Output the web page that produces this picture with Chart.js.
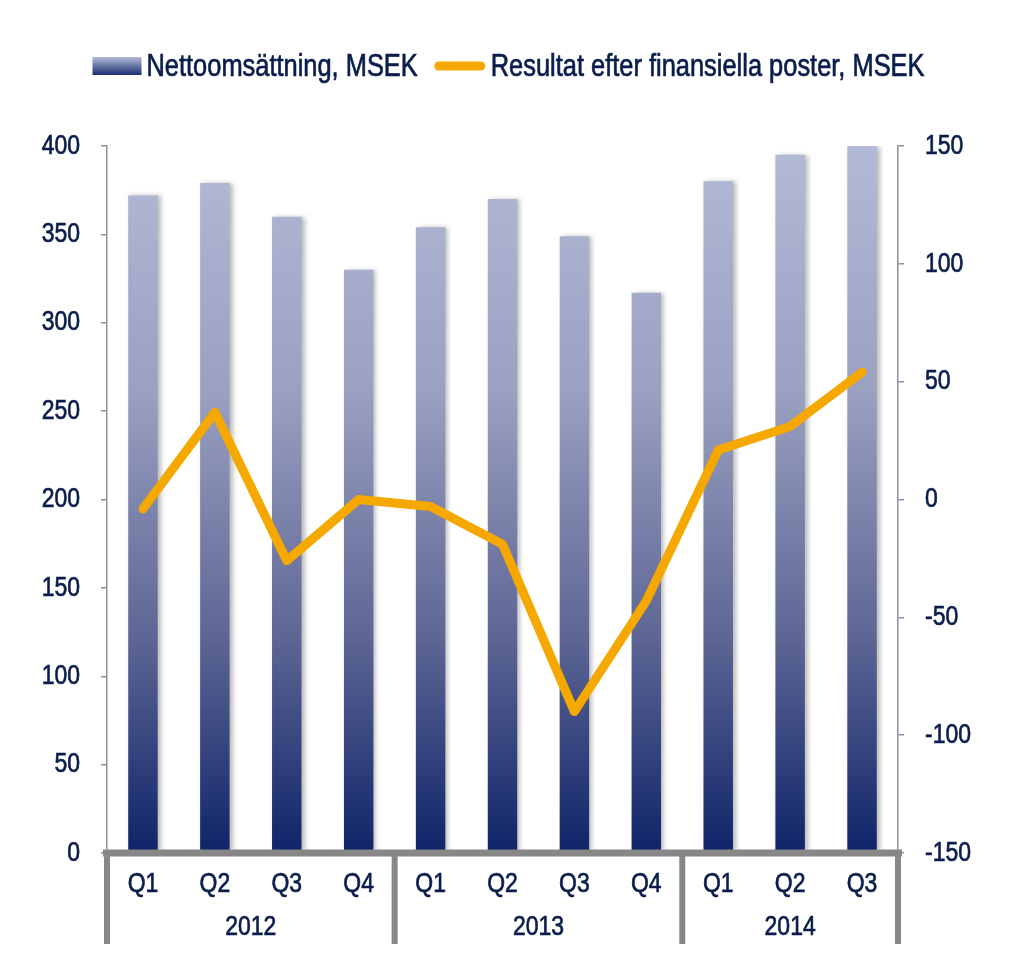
<!DOCTYPE html>
<html><head><meta charset="utf-8">
<script src="https://cdn.jsdelivr.net/npm/chart.js@4/dist/chart.umd.min.js"></script>
<style>html,body{margin:0;padding:0;background:#fff}#wrap{width:1017px;height:967px;position:relative}</style>
</head><body><div id="wrap"><canvas id="c" width="1017" height="967"></canvas></div>
<script>
const quarters = ['Q1','Q2','Q3','Q4','Q1','Q2','Q3','Q4','Q1','Q2','Q3'];
const years = ['2012','2013','2014'];
const quartersPerYear = [4,4,3];
const netSales = [372,379,360,330,354,370,349,317,380,395,400];
const result = [-4,37,-26,0,-3,-19,-90,-43,21,31,54];
const seriesNames = ['Nettoomsättning, MSEK','Resultat efter finansiella poster, MSEK'];
const leftAxis = {min:0, max:400, step:50};
const rightAxis = {min:-150, max:150, step:50};

const FONT = "'Liberation Sans',Arial,sans-serif";
const TXT = '#0a1d4c';
const AXIS = '#8c8f9e';
const THICK = '#878787';
const ORANGE = '#f5a800';
const NARROW = 0.82;

function barGradient(ctx){
  const ca = ctx.chart.chartArea;
  if(!ca) return '#6a7299';
  const g = ctx.chart.ctx.createLinearGradient(0, ca.top, 0, ca.bottom);
  g.addColorStop(0, '#b3bad7');
  g.addColorStop(0.35, '#9aa0c0');
  g.addColorStop(0.7, '#5c6594');
  g.addColorStop(1, '#0f2468');
  return g;
}

function txt(c, s, x, y, size, align){
  c.save();
  c.font = size+'px '+FONT;
  c.translate(x, y); c.scale(NARROW, 1);
  c.textAlign = align; c.textBaseline = 'middle';
  c.fillStyle = TXT; c.strokeStyle = TXT; c.lineWidth = 0.7;
  c.fillText(s, 0, 0);
  c.strokeText(s, 0, 0);
  c.restore();
}
function txtWidth(c, s, size){
  c.save(); c.font = size+'px '+FONT; const w = c.measureText(s).width*NARROW; c.restore(); return w;
}

const decor = {
  id:'decor',
  beforeDatasetDraw(chart, args){
    if(args.index===0){
      const c=chart.ctx; c.save();
      c.shadowColor='rgba(0,0,0,0.28)'; c.shadowBlur=5; c.shadowOffsetX=3; c.shadowOffsetY=0;
    }
  },
  afterDatasetDraw(chart, args){
    if(args.index===0) chart.ctx.restore();
  },
  afterDraw(chart){
    const c = chart.ctx, ca = chart.chartArea, xs = chart.scales.x;
    const ys = chart.scales.y, y1 = chart.scales.y1;
    const n = quarters.length, cw = (ca.right-ca.left)/n;
    c.save();
    c.strokeStyle = THICK; c.lineWidth = 7; c.lineCap='butt';
    c.beginPath(); c.moveTo(ca.left-4, ca.bottom); c.lineTo(ca.right+4, ca.bottom); c.stroke();
    let b = 0;
    const bounds = [0];
    quartersPerYear.forEach(q=>{ b+=q; bounds.push(b); });
    const bx = i => i<n ? xs.getPixelForValue(i)-cw/2 : xs.getPixelForValue(n-1)+cw/2;
    c.lineWidth = 6;
    bounds.forEach(i=>{
      const x = bx(i);
      c.beginPath(); c.moveTo(x, ca.bottom); c.lineTo(x, ca.bottom+91); c.stroke();
    });
    c.restore();
    quarters.forEach((q,i)=> txt(c, q, xs.getPixelForValue(i), ca.bottom+31, 28, 'center'));
    years.forEach((y,k)=> txt(c, y, (bx(bounds[k])+bx(bounds[k+1]))/2, ca.bottom+74, 28, 'center'));
    ys.ticks.forEach(t=> txt(c, String(t.value), ca.left-27, ys.getPixelForValue(t.value), 28, 'right'));
    y1.ticks.forEach(t=> txt(c, String(t.value), ca.right+27, y1.getPixelForValue(t.value), 28, 'left'));
    const LS = 31;
    const w1 = txtWidth(c, seriesNames[0], LS), w2 = txtWidth(c, seriesNames[1], LS);
    const sw = 49, gap = 5, mid = 16, lw = 52;
    const total = sw+gap+w1+mid+lw+gap+w2;
    let x = (chart.width-total)/2; const ly = 66;
    c.save();
    const g = c.createLinearGradient(0, ly-9, 0, ly+9);
    g.addColorStop(0,'#b3bad7'); g.addColorStop(1,'#1a2d70');
    c.fillStyle = g; c.fillRect(x, ly-9, sw, 18);
    c.restore();
    x += sw+gap;
    txt(c, seriesNames[0], x, ly+1, LS, 'left');
    x += w1+mid;
    c.save();
    c.strokeStyle = ORANGE; c.lineWidth = 9; c.lineCap='round';
    c.beginPath(); c.moveTo(x+5, ly); c.lineTo(x+lw-5, ly); c.stroke();
    c.restore();
    x += lw+gap;
    txt(c, seriesNames[1], x, ly+1, LS, 'left');
  }
};

new Chart(document.getElementById('c'), {
  data:{
    labels: quarters,
    datasets:[
      {type:'bar', label:seriesNames[0], data:netSales, yAxisID:'y', backgroundColor:barGradient,
       borderWidth:0, categoryPercentage:1, barPercentage:0.41, order:1},
      {type:'line', label:seriesNames[1], data:result, yAxisID:'y1', borderColor:ORANGE,
       borderWidth:9, borderCapStyle:'round', borderJoinStyle:'round', pointRadius:0, tension:0, order:0, clip:false}
    ]
  },
  options:{
    responsive:false, animation:false, devicePixelRatio:1,
    layout:{padding:{top:146, left:0, right:0, bottom:0}},
    plugins:{legend:{display:false}, tooltip:{enabled:false}},
    scales:{
      x:{
        grid:{display:false}, border:{display:false},
        ticks:{display:false},
        afterFit(s){ s.height = 114; }
      },
      y:{
        position:'left', min:leftAxis.min, max:leftAxis.max,
        ticks:{stepSize:leftAxis.step, display:false},
        grid:{drawOnChartArea:false, drawTicks:true, tickLength:6, color:AXIS, lineWidth:1.5},
        border:{display:true, color:AXIS, width:1.5},
        afterFit(s){ s.width = 107; }
      },
      y1:{
        position:'right', min:rightAxis.min, max:rightAxis.max,
        ticks:{stepSize:rightAxis.step, display:false},
        grid:{drawOnChartArea:false, drawTicks:true, tickLength:6, color:AXIS, lineWidth:1.5},
        border:{display:true, color:AXIS, width:1.5},
        afterFit(s){ s.width = 119; }
      }
    }
  },
  plugins:[decor]
});
</script></body></html>
